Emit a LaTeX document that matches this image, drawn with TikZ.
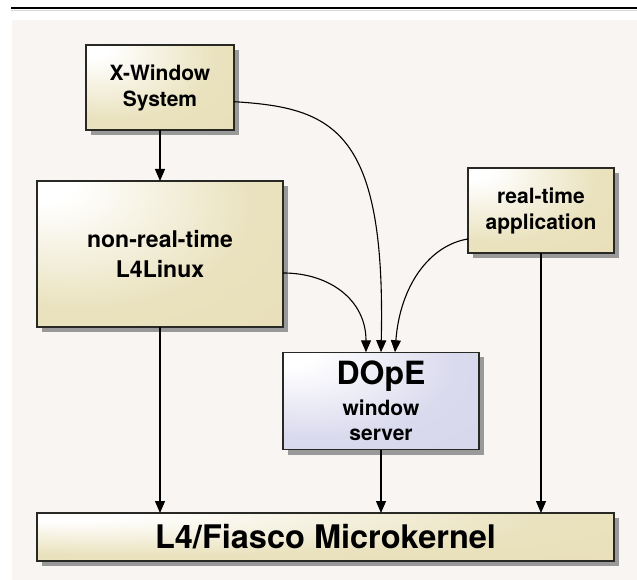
\documentclass[tikz,border=0pt]{standalone}
\usepackage{fontspec}
\setmainfont{TeX Gyre Heros}
\usetikzlibrary{arrows.meta,shadows,calc}
\definecolor{bgc}{RGB}{249,245,242}
\definecolor{beigec}{RGB}{234,226,190}
\definecolor{beiged}{RGB}{228,218,174}
\definecolor{lavc}{RGB}{218,218,238}
\definecolor{lavd}{RGB}{208,208,232}
\definecolor{shadc}{RGB}{153,153,153}
\definecolor{bordc}{RGB}{40,40,36}
\pgfdeclareradialshading{beigeshade}{\pgfpoint{-25bp}{25bp}}{color(0bp)=(white); color(6bp)=(white); color(35bp)=(beigec); color(100bp)=(beiged)}
\pgfdeclareradialshading{lavshade}{\pgfpoint{-25bp}{25bp}}{color(0bp)=(white); color(6bp)=(white); color(35bp)=(lavc); color(100bp)=(lavd)}
\tikzset{
  boxbase/.style={draw=bordc, line width=1.2pt, inner sep=0pt, outer sep=0pt, align=center, text=black,
    general shadow={fill=shadc, shadow xshift=5pt, shadow yshift=-5pt}},
  beigebox/.style={boxbase, shading=beigeshade},
  lavbox/.style={boxbase, shading=lavshade},
  arr/.style={line width=1.1pt, draw=black, -{Triangle[length=12pt,width=10pt]}}
}
\begin{document}
\begin{tikzpicture}[x=1pt,y=-1pt]
\useasboundingbox (0,0) rectangle (637,580);
\fill[bgc] (12,20) rectangle (637,580);
\draw[line width=1.3pt] (11,8) -- (637,8);
\draw[black!15, line width=1pt] (11,10.5) -- (637,10.5);

\node[beigebox, minimum width=148pt, minimum height=85pt, font=\bfseries\fontsize{21}{26}\selectfont] (xw) at (160,87.5) {X-Window\\System};
\node[beigebox, minimum width=246pt, minimum height=146pt, font=\bfseries\fontsize{23}{30}\selectfont] (lin) at (160,254) {non-real-time\\L4Linux};
\node[beigebox, minimum width=146pt, minimum height=85pt, font=\bfseries\fontsize{21}{26}\selectfont] (rt) at (541,210.5) {real-time\\application};
\node[lavbox, minimum width=196pt, minimum height=97.5pt, font=\bfseries\fontsize{21}{25}\selectfont] (dope) at (381,401) {{\fontsize{32}{34}\selectfont DOpE}\\[6pt]window\\server};
\node[beigebox, minimum width=577pt, minimum height=48pt, font=\bfseries\fontsize{32.5}{36}\selectfont] (l4) at (325.5,537) {L4/Fiasco Microkernel};

\draw[arr] (xw.south) -- (lin.north);
\draw[arr] (lin.south) -- (lin.south |- l4.north);
\draw[arr] (dope.south) -- (dope.south |- l4.north);
\draw[arr] (rt.south) -- (rt.south |- l4.north);

\draw[arr] ($(xw.north east)!0.667!(xw.south east)$) .. controls +(100,6) and +(5,-222) .. (dope.north);
\draw[arr] ($(lin.north east)!0.63!(lin.south east)$) .. controls +(47,0) and +(0,-52) .. ($(dope.north)+(-15,0)$);
\draw[arr] ($(rt.north west)!0.835!(rt.south west)$) .. controls +(-38,6) and +(5,-67) .. ($(dope.north)+(14,0)$);
\end{tikzpicture}
\end{document}
